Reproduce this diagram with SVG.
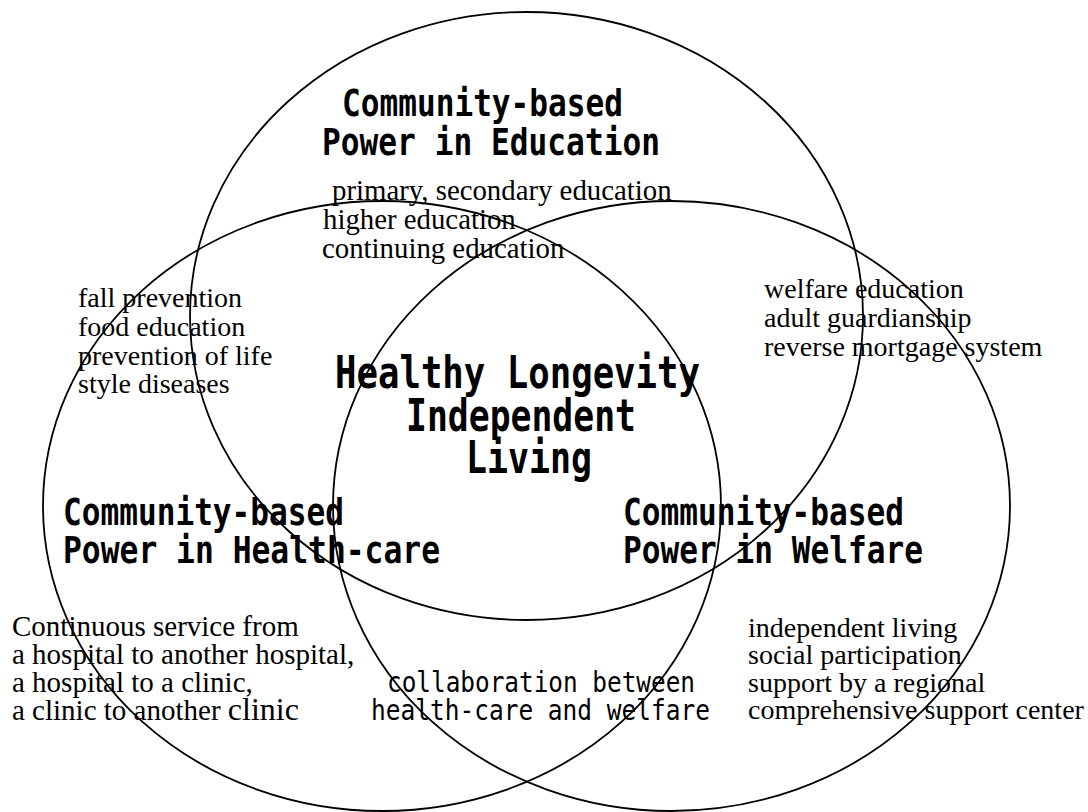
<svg xmlns="http://www.w3.org/2000/svg" width="1088" height="812" viewBox="0 0 1088 812">
<style>
.ring{fill:none;stroke:#000;stroke-width:1.8}
.h{font-family:"DejaVu Sans Mono","Liberation Mono",monospace;font-size:38px;font-weight:bold;fill:#000}
.c{font-family:"DejaVu Sans Mono","Liberation Mono",monospace;font-size:44px;font-weight:bold;fill:#000}
.k{font-family:"DejaVu Sans Mono","Liberation Mono",monospace;font-size:28px;fill:#000}
.s{font-family:"Liberation Serif","Times New Roman",serif;fill:#000}
</style>
<rect width="1088" height="812" fill="#fff"/>
<g id="education">
<ellipse class="ring" cx="526.5" cy="316" rx="336.5" ry="304"/>
<text class="h" x="342" y="116" textLength="281" lengthAdjust="spacingAndGlyphs">Community-based</text>
<text class="h" x="322" y="155" textLength="338" lengthAdjust="spacingAndGlyphs">Power in Education</text>
<text class="s" font-size="28.8"><tspan x="332" y="200">primary, secondary education</tspan><tspan x="323" y="229">higher education</tspan><tspan x="322" y="258">continuing education</tspan></text>
</g>
<g id="healthcare">
<ellipse class="ring" cx="382" cy="506" rx="339" ry="305"/>
<text class="h" x="63" y="525" textLength="281" lengthAdjust="spacingAndGlyphs">Community-based</text>
<text class="h" x="63" y="563" textLength="377" lengthAdjust="spacingAndGlyphs">Power in Health-care</text>
<text class="s" font-size="28"><tspan x="78" y="307">fall prevention</tspan><tspan x="78" y="336">food education</tspan><tspan x="78" y="365">prevention of life</tspan><tspan x="78" y="393">style diseases</tspan></text>
<text class="s" font-size="29"><tspan x="12" y="636">Continuous service from</tspan><tspan x="12" y="664">a hospital to another hospital,</tspan><tspan x="12" y="692">a hospital to a clinic,</tspan><tspan x="12" y="720">a clinic to another <tspan font-size="32">clinic</tspan></tspan></text>
</g>
<g id="welfare">
<ellipse class="ring" cx="671.5" cy="506" rx="338.5" ry="305"/>
<text class="h" x="623" y="525" textLength="281" lengthAdjust="spacingAndGlyphs">Community-based</text>
<text class="h" x="623" y="563" textLength="300" lengthAdjust="spacingAndGlyphs">Power in Welfare</text>
<text class="s" font-size="28"><tspan x="764" y="298">welfare education</tspan><tspan x="764" y="327">adult guardianship</tspan><tspan x="764" y="356">reverse mortgage system</tspan></text>
<text class="s" font-size="28"><tspan x="748" y="637">independent living</tspan><tspan x="748" y="664">social participation</tspan><tspan x="748" y="692">support by a regional</tspan><tspan x="748" y="719">comprehensive support center</tspan></text>
</g>
<g id="center">
<text class="c" x="335" y="388" textLength="365" lengthAdjust="spacingAndGlyphs">Healthy Longevity</text>
<text class="c" x="406" y="431" textLength="230" lengthAdjust="spacingAndGlyphs">Independent</text>
<text class="c" x="466" y="473" textLength="126" lengthAdjust="spacingAndGlyphs">Living</text>
</g>
<g id="collaboration">
<text class="k" x="387" y="692" textLength="308" lengthAdjust="spacingAndGlyphs">collaboration between</text>
<text class="k" x="371" y="720" textLength="339" lengthAdjust="spacingAndGlyphs">health-care and welfare</text>
</g>
<g id="connectors"/>
</svg>
